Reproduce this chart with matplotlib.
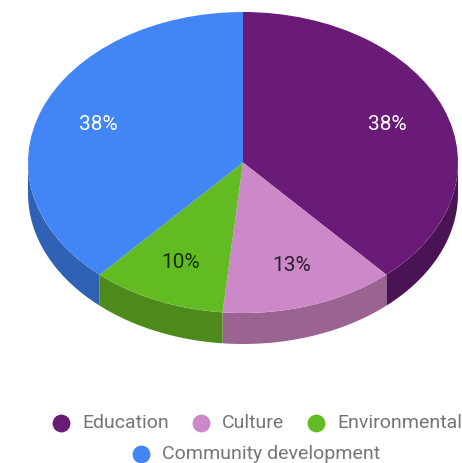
import numpy as np

import matplotlib
matplotlib.use("Agg")
import matplotlib.pyplot as plt
from matplotlib.patches import Polygon, Wedge
from matplotlib.transforms import Affine2D

categories = ["Education", "Culture", "Environmental", "Community development"]
values = [38, 13, 10, 38]
colors = ["#6a1b78", "#cc88c9", "#62bb22", "#4285f4"]
side_colors = ["#4a1354", "#9b6392", "#4d8a1c", "#2f62b5"]
label_colors = ["#ffffff", "#2a1f2c", "#17300a", "#ffffff"]

CX, CY = 243.0, 162.5
RX, RY = 215.0, 150.5
DEPTH = 31.0

plt.rcParams["font.family"] = ["Roboto", "DejaVu Sans"]

fig = plt.figure(figsize=(4.62, 4.63), dpi=100)
ax = fig.add_axes([0, 0, 1, 1])
ax.set_xlim(0, 462)
ax.set_ylim(463, 0)
ax.axis("off")

# angles run clockwise from twelve o'clock
fractions = np.array(values) / sum(values)
edges = np.concatenate([[0.0], np.cumsum(fractions)]) * 2 * np.pi


def rim(theta):
    return CX + RX * np.sin(theta), CY - RY * np.cos(theta)


# side wall, only the front half of the disc shows
for i in range(len(values)):
    lo = max(edges[i], np.pi / 2)
    hi = min(edges[i + 1], 3 * np.pi / 2)
    if hi <= lo:
        continue
    t = np.linspace(lo, hi, 120)
    x, y = rim(t)
    top = np.column_stack([x, y])
    bottom = np.column_stack([x, y + DEPTH])[::-1]
    ax.add_patch(Polygon(np.vstack([top, bottom]), closed=True, fc=side_colors[i], ec="none"))

# top face: unit circle squashed into an ellipse
to_px = Affine2D().scale(RX, -RY).translate(CX, CY) + ax.transData
for i in range(len(values)):
    # Wedge measures counter-clockwise from +x
    a1 = 90 - np.degrees(edges[i + 1])
    a2 = 90 - np.degrees(edges[i])
    ax.add_patch(Wedge((0, 0), 1.0, a1, a2, fc=colors[i], ec="none", transform=to_px))

    mid = (edges[i] + edges[i + 1]) / 2
    ax.text(
        CX + 0.72 * RX * np.sin(mid),
        CY - 0.72 * RY * np.cos(mid) + 0.5,
        f"{values[i]}%",
        color=label_colors[i],
        fontsize=15,
        ha="center",
        va="center",
    )

# legend, wrapped on two rows
legend_rows = [(0, 61, 423), (1, 201, 423), (2, 316, 423), (3, 141, 454)]
for i, x, y in legend_rows:
    ax.scatter([x], [y], s=165, color=colors[i], linewidths=0)
    ax.text(x + 21, y, categories[i], color="#757575", fontsize=14, ha="left", va="center")

fig.savefig("out.png", dpi=100, facecolor="white")
